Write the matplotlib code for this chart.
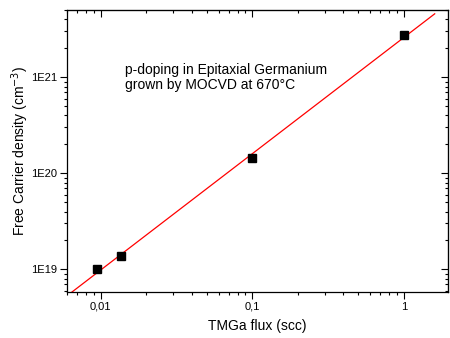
import numpy as np
import matplotlib.pyplot as plt
from matplotlib.ticker import LogLocator, FixedLocator, FixedFormatter, NullFormatter

plt.rcParams['font.family'] = ['Liberation Sans', 'DejaVu Sans']

# measured points
flux = [0.0095, 0.0136, 0.1, 1.0]
density = [1.01e19, 1.37e19, 1.44e20, 2.74e21]

x_ticks = [0.01, 0.1, 1]
x_labels = ["0,01", "0,1", "1"]
y_ticks = [1e19, 1e20, 1e21]
y_labels = ["1E19", "1E20", "1E21"]

# power-law fit in log-log space
slope, icpt = np.polyfit(np.log10(flux), np.log10(density), 1)
xf = np.logspace(np.log10(0.006), np.log10(1.6), 50)
yf = 10 ** (icpt + slope * np.log10(xf))

fig = plt.figure(figsize=(4.5, 3.38), dpi=100)
ax = fig.add_axes([0.149, 0.136, 0.846, 0.834])

ax.plot(xf, yf, color="red", lw=0.9)
ax.plot(flux, density, "s", color="black", ms=5.5)

ax.set_xscale("log")
ax.set_yscale("log")
ax.set_xlim(0.006, 1.95)
ax.set_ylim(5.8e18, 5e21)

for a in (ax.xaxis, ax.yaxis):
    a.set_minor_locator(LogLocator(base=10, subs=np.arange(2, 10)))
    a.set_minor_formatter(NullFormatter())
ax.xaxis.set_major_locator(FixedLocator(x_ticks))
ax.xaxis.set_major_formatter(FixedFormatter(x_labels))
ax.yaxis.set_major_locator(FixedLocator(y_ticks))
ax.yaxis.set_major_formatter(FixedFormatter(y_labels))
ax.tick_params(which="major", direction="out", length=5, width=0.8, labelsize=8, pad=2)
ax.tick_params(which="minor", direction="out", length=2.5, width=0.8)

# top and right ticks point inward
top = ax.secondary_xaxis("top")
right = ax.secondary_yaxis("right")
for sa, axis in ((top, top.xaxis), (right, right.yaxis)):
    axis.set_major_locator(FixedLocator(x_ticks if sa is top else y_ticks))
    axis.set_minor_locator(LogLocator(base=10, subs=np.arange(2, 10)))
    axis.set_major_formatter(NullFormatter())
    axis.set_minor_formatter(NullFormatter())
    sa.tick_params(which="major", direction="in", length=5, width=0.8)
    sa.tick_params(which="minor", direction="in", length=2.5, width=0.8)

for s in ax.spines.values():
    s.set_linewidth(0.9)

ax.set_xlabel("TMGa flux (scc)", fontsize=10, labelpad=5)
ax.set_ylabel("Free Carrier density (cm$^{-3}$)", fontsize=10, labelpad=0)

ax.text(0.152, 0.814, "p-doping in Epitaxial Germanium\ngrown by MOCVD at 670°C",
        transform=ax.transAxes, fontsize=10, va="top", linespacing=1.15)

fig.savefig("out.png", dpi=100)
